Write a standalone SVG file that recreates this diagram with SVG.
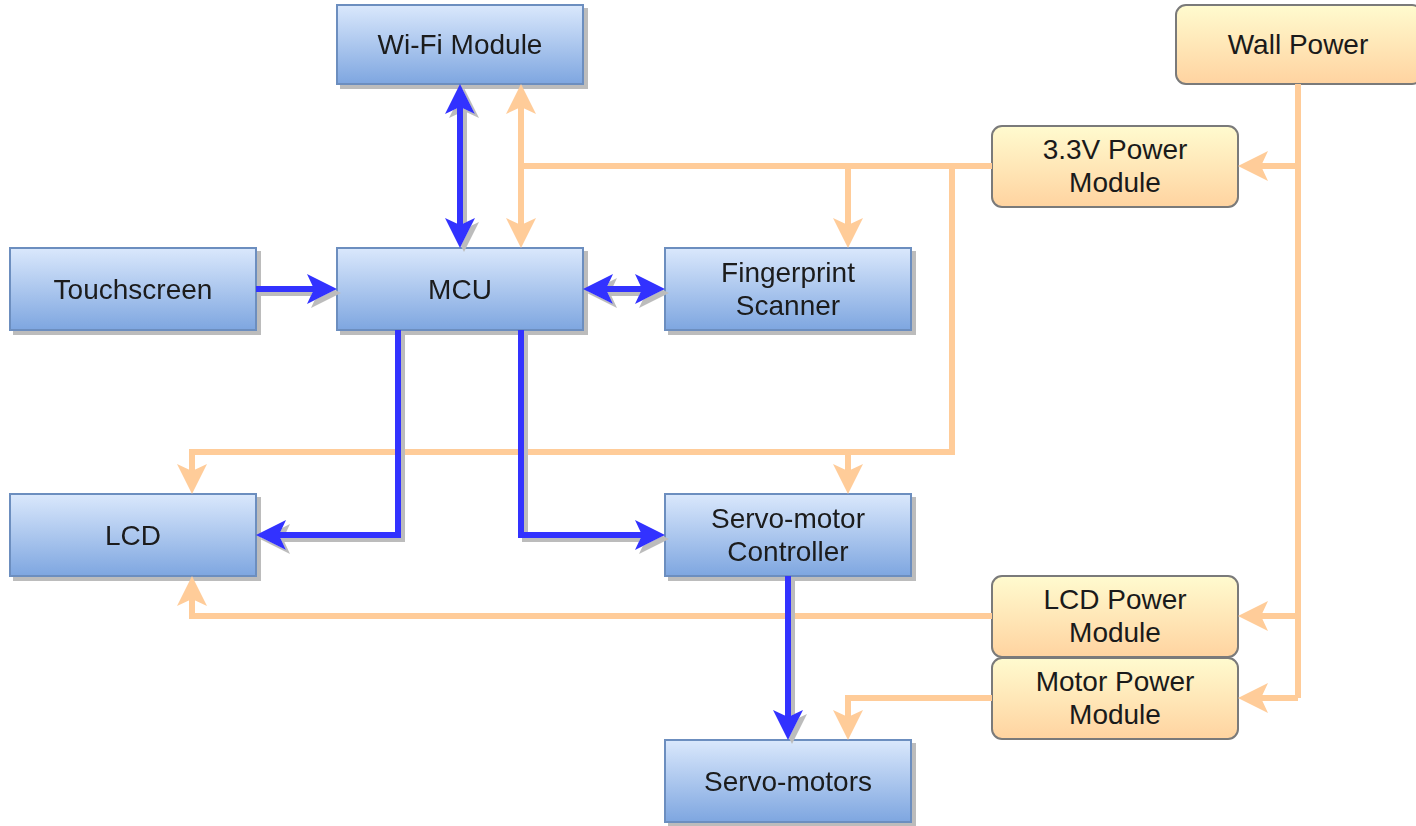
<svg xmlns="http://www.w3.org/2000/svg" width="1416" height="826" viewBox="0 0 1416 826">
  <defs>
    <linearGradient id="gBlue" x1="0" y1="0" x2="0" y2="1">
      <stop offset="0" stop-color="#dae8fc"/>
      <stop offset="1" stop-color="#7ea6e0"/>
    </linearGradient>
    <linearGradient id="gPower" x1="0" y1="0" x2="0" y2="1">
      <stop offset="0" stop-color="#fffbcf"/>
      <stop offset="1" stop-color="#ffd3a0"/>
    </linearGradient>
    <filter id="shadow" filterUnits="userSpaceOnUse" x="0" y="0" width="1416" height="826">
      <feOffset in="SourceAlpha" dx="4" dy="4" result="off"/>
      <feFlood flood-color="#bcbcbc"/>
      <feComposite in2="off" operator="in" result="sh"/>
      <feMerge>
        <feMergeNode in="sh"/>
        <feMergeNode in="SourceGraphic"/>
      </feMerge>
    </filter>
    <!-- notched arrowheads; the line ends at the notch, the tip sits 23px further on -->
    <marker id="aBlue" viewBox="0 0 30 30" refX="7" refY="15" markerWidth="30" markerHeight="30" markerUnits="userSpaceOnUse" orient="auto-start-reverse">
      <path d="M0,0 L30,15 L0,30 L7,15 Z" fill="#3333ff"/>
    </marker>
    <marker id="aOrange" viewBox="0 0 30 30" refX="7" refY="15" markerWidth="30" markerHeight="30" markerUnits="userSpaceOnUse" orient="auto-start-reverse">
      <path d="M0,0 L30,15 L0,30 L7,15 Z" fill="#ffcc99"/>
    </marker>
  </defs>
  <style>
    .blk rect { fill: url(#gBlue); stroke: #6c8ebf; stroke-width: 2; }
    .pwr rect { fill: url(#gPower); stroke: #7a7a7a; stroke-width: 2; }
    text { font-family: "Liberation Sans", Arial, sans-serif; font-size: 28px; fill: #1a1a1a; text-anchor: middle; }
    .data path { fill: none; stroke: #3333ff; stroke-width: 6; stroke-linejoin: miter; }
    .power path { fill: none; stroke: #ffcc99; stroke-width: 6; stroke-linejoin: miter; }
    .data .end { marker-end: url(#aBlue); }
    .data .both { marker-start: url(#aBlue); marker-end: url(#aBlue); }
    .power .end { marker-end: url(#aOrange); }
    .power .both { marker-start: url(#aOrange); marker-end: url(#aOrange); }
  </style>

  <rect width="1416" height="826" fill="#ffffff"/>

  <!-- functional blocks -->
  <g id="wifi" class="blk" filter="url(#shadow)">
    <rect x="337" y="5" width="246" height="79"/>
    <text x="460" y="54">Wi-Fi Module</text>
  </g>
  <g id="touchscreen" class="blk" filter="url(#shadow)">
    <rect x="10" y="248" width="246" height="82"/>
    <text x="133" y="299">Touchscreen</text>
  </g>
  <g id="mcu" class="blk" filter="url(#shadow)">
    <rect x="337" y="248" width="246" height="82"/>
    <text x="460" y="299">MCU</text>
  </g>
  <g id="fingerprint" class="blk" filter="url(#shadow)">
    <rect x="665" y="248" width="246" height="82"/>
    <text x="788" y="282">Fingerprint</text>
    <text x="788" y="315">Scanner</text>
  </g>
  <g id="lcd" class="blk" filter="url(#shadow)">
    <rect x="10" y="494" width="246" height="82"/>
    <text x="133" y="545">LCD</text>
  </g>
  <g id="servo-controller" class="blk" filter="url(#shadow)">
    <rect x="665" y="494" width="246" height="82"/>
    <text x="788" y="528">Servo-motor</text>
    <text x="788" y="561">Controller</text>
  </g>
  <g id="servo-motors" class="blk" filter="url(#shadow)">
    <rect x="665" y="740" width="246" height="82"/>
    <text x="788" y="791">Servo-motors</text>
  </g>

  <!-- power supply blocks -->
  <g id="wall-power" class="pwr">
    <rect x="1176" y="5" width="246" height="79" rx="10" ry="10"/>
    <text x="1298" y="54">Wall Power</text>
  </g>
  <g id="pm-3v3" class="pwr">
    <rect x="992" y="126" width="246" height="81" rx="10" ry="10"/>
    <text x="1115" y="159">3.3V Power</text>
    <text x="1115" y="192">Module</text>
  </g>
  <g id="pm-lcd" class="pwr">
    <rect x="992" y="576" width="246" height="81" rx="10" ry="10"/>
    <text x="1115" y="609">LCD Power</text>
    <text x="1115" y="642">Module</text>
  </g>
  <g id="pm-motor" class="pwr">
    <rect x="992" y="658" width="246" height="81" rx="10" ry="10"/>
    <text x="1115" y="691">Motor Power</text>
    <text x="1115" y="724">Module</text>
  </g>

  <!-- connectors -->
  <g id="connectors">
    <g class="power">
      <path class="both" d="M521,107 V225"/>
      <path d="M992,166 H521"/>
      <path class="end" d="M848,166 V225"/>
      <path class="end" d="M952,166 V452 H192 V471"/>
      <path class="end" d="M848,452 V471"/>
      <path d="M1298,84 V698"/>
      <path class="end" d="M1298,166 H1261"/>
      <path class="end" d="M1298,616 H1261"/>
      <path class="end" d="M1298,698 H1261"/>
      <path class="end" d="M992,616 H192 V599"/>
      <path class="end" d="M992,698 H848 V717"/>
    </g>
    <g class="data" filter="url(#shadow)">
      <path class="both" d="M460,107 V225"/>
      <path class="end" d="M256,289 H314"/>
      <path class="both" d="M606,289 H642"/>
      <path class="end" d="M398,330 V535 H279"/>
      <path class="end" d="M521,330 V535 H642"/>
      <path class="end" d="M788,576 V717"/>
    </g>
  </g>
</svg>
